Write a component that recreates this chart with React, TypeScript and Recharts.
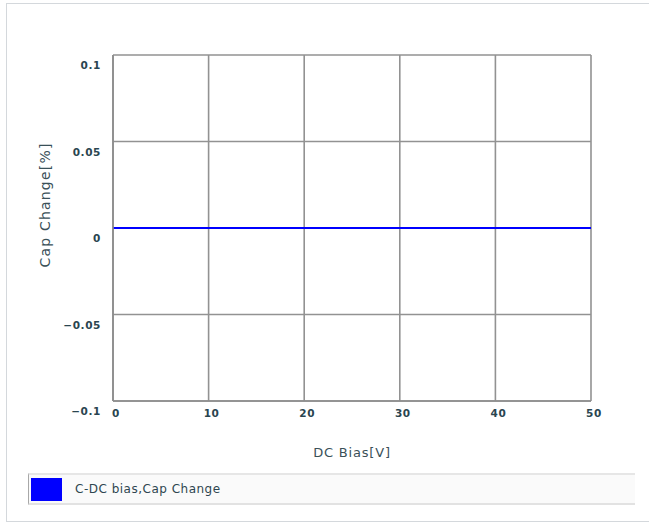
import React from "react";
import { LineChart, Line, XAxis, YAxis, CartesianGrid } from "recharts";

// DC bias sweep (V) and capacitance change (%)
const biasV = [0, 10, 20, 30, 40, 50];
const capChange = [0, 0, 0, 0, 0, 0];
const xTicks = [0, 10, 20, 30, 40, 50];
const yTicks = [-0.1, -0.05, 0, 0.05, 0.1];
const seriesName = "C-DC bias,Cap Change";

const data = biasV.map((v, i) => ({ bias: v, cap: capChange[i] }));

const FONT = "DejaVu Sans, Verdana, sans-serif";

const tickFont = {
  fontFamily: FONT,
  fontSize: 10.5,
  fontWeight: 700,
  letterSpacing: 0.6,
  fill: "#2a4550",
};

// minus sign as in the original
const fmt = (v: number) => (v < 0 ? "\u2212" + String(-v) : String(v));

const YTick = (props: any) => {
  const { x, y, payload } = props;
  return (
    <text x={x - 4} y={y + 10} textAnchor="end" dominantBaseline="central" {...tickFont}>
      {fmt(payload.value)}
    </text>
  );
};

const XTick = (props: any) => {
  const { x, y, payload } = props;
  return (
    <text x={x + 3} y={y + 4} textAnchor="middle" dominantBaseline="central" {...tickFont}>
      {fmt(payload.value)}
    </text>
  );
};

const YTitle = (props: any) => {
  const vb = props.viewBox || { x: 0, y: 0 };
  const cx = vb.x + 45;
  const cy = vb.y + 150;
  return (
    <text
      x={cx}
      y={cy}
      transform={`rotate(-90, ${cx}, ${cy})`}
      textAnchor="middle"
      dominantBaseline="central"
      fontFamily={FONT}
      fontSize={14}
      letterSpacing={1.2}
      fill="#3a5058"
    >
      Cap Change[%]
    </text>
  );
};

export default function App() {
  return (
    <div style={{ position: "absolute", left: 0, top: 0, width: 649, height: 525, background: "#fff" }}>
      <div
        style={{
          position: "absolute",
          left: 6,
          top: 3,
          width: 660,
          height: 519,
          border: "1px solid #d4d8dc",
          boxSizing: "border-box",
        }}
      />
      <div style={{ position: "absolute", left: 0, top: 0 }}>
        <LineChart
          width={649}
          height={470}
          data={data}
          margin={{ top: 55, right: 58, left: 0, bottom: 9 }}
        >
          <CartesianGrid stroke="#929292" strokeWidth={1.6} />
          <XAxis
            dataKey="bias"
            type="number"
            domain={[0, 50]}
            ticks={xTicks}
            height={60}
            tickLine={false}
            axisLine={{ stroke: "#8c8c8c", strokeWidth: 1.6 }}
            tick={<XTick />}
            label={{
              value: "DC Bias[V]",
              position: "insideBottom",
              offset: 4,
              style: { fontFamily: FONT, fontSize: 13, letterSpacing: 0.8, fill: "#3a5058" },
            }}
          />
          <YAxis
            type="number"
            domain={[-0.1, 0.1]}
            ticks={yTicks}
            width={113}
            tickLine={false}
            axisLine={{ stroke: "#8c8c8c", strokeWidth: 1.6 }}
            tick={<YTick />}
            label={<YTitle />}
          />
          <Line
            dataKey="cap"
            name={seriesName}
            stroke="#0000ff"
            strokeWidth={2}
            dot={false}
            isAnimationActive={false}
          />
        </LineChart>
      </div>
      <div
        style={{
          position: "absolute",
          left: 28,
          top: 473,
          width: 607,
          height: 32,
          background: "#fafafa",
          borderTop: "2px solid #e6e6e6",
          borderBottom: "2px solid #e2e2e2",
          borderLeft: "1px solid #a8a8a8",
          boxSizing: "border-box",
          display: "flex",
          alignItems: "center",
        }}
      >
        <div style={{ width: 31, height: 23, background: "#0000ff", marginLeft: 2 }} />
        <span
          style={{
            marginLeft: 13,
            fontFamily: FONT,
            fontSize: 12,
            letterSpacing: 0.5,
            color: "#2e4650",
          }}
        >
          {seriesName}
        </span>
      </div>
    </div>
  );
}
